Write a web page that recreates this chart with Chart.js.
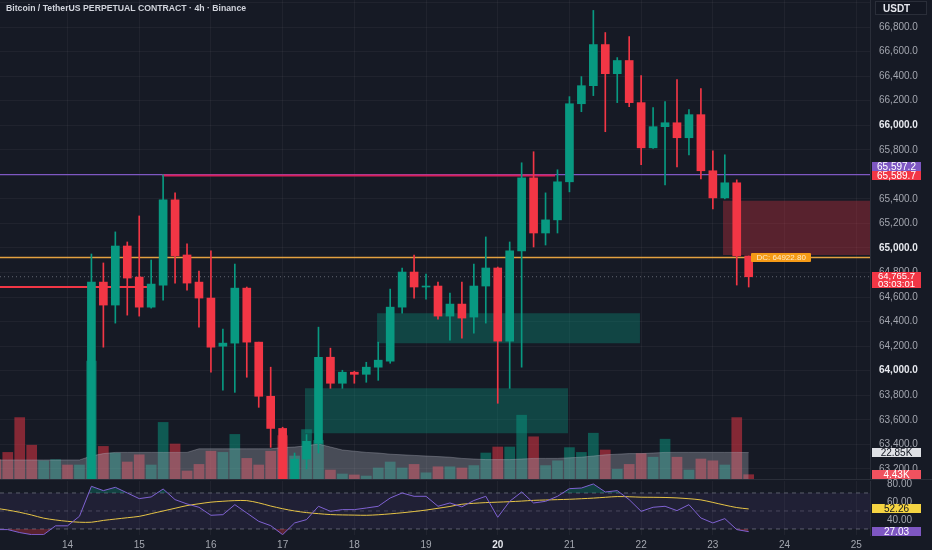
<!DOCTYPE html>
<html>
<head>
<meta charset="utf-8">
<script src="https://cdn.jsdelivr.net/npm/chart.js@4.4.1/dist/chart.umd.min.js"></script>
<style>
html, body { margin: 0; padding: 0; background: #161a25; }
#wrap { position: relative; width: 932px; height: 550px; overflow: hidden; font-family: "Liberation Sans", Arial, sans-serif; }
#main { position: absolute; left: 0; top: 0; }
#rsi { position: absolute; left: 0; top: 478px; }
#sep { position: absolute; left: 0; top: 479px; width: 932px; height: 1px; background: #2a2e39; }
#title { position: absolute; left: 6px; top: 3px; font-size: 8.7px; font-weight: bold; color: #d1d4dc; white-space: nowrap; }
#unit { position: absolute; left: 875px; top: 1px; width: 52px; height: 14px; line-height: 14px; box-sizing: border-box; border: 1px solid #2a2e39; background: #131722; color: #e6e8ee; font-size: 10px; font-weight: bold; padding-left: 7px; }
.tag { position: absolute; left: 872px; width: 49px; height: 9px; line-height: 9px; font-size: 10px; text-align: center; color: #fff; white-space: nowrap; }
.tag.two { height: 16px; line-height: 8px; font-size: 9.5px; }
#dc { position: absolute; height: 9px; line-height: 9px; font-size: 8px; width: 60px; text-align: center; background: #f59a16; color: #fde9c8; border-radius: 1px; }
</style>
</head>
<body>
<div id="wrap">
  <canvas id="main" width="932" height="480"></canvas>
  <div id="sep"></div>
  <canvas id="rsi" width="932" height="72"></canvas>
  <div id="title">Bitcoin / TetherUS PERPETUAL CONTRACT · 4h · Binance</div>
  <div id="unit">USDT</div>
</div>
<script>
// 4h bars, 13th 00:00 to 23rd 12:00
var barTimes = [
  '13 00:00','13 04:00','13 08:00','13 12:00','13 16:00','13 20:00',
  '14 00:00','14 04:00','14 08:00','14 12:00','14 16:00','14 20:00',
  '15 00:00','15 04:00','15 08:00','15 12:00','15 16:00','15 20:00',
  '16 00:00','16 04:00','16 08:00','16 12:00','16 16:00','16 20:00',
  '17 00:00','17 04:00','17 08:00','17 12:00','17 16:00','17 20:00',
  '18 00:00','18 04:00','18 08:00','18 12:00','18 16:00','18 20:00',
  '19 00:00','19 04:00','19 08:00','19 12:00','19 16:00','19 20:00',
  '20 00:00','20 04:00','20 08:00','20 12:00','20 16:00','20 20:00',
  '21 00:00','21 04:00','21 08:00','21 12:00','21 16:00','21 20:00',
  '22 00:00','22 04:00','22 08:00','22 12:00','22 16:00','22 20:00',
  '23 00:00','23 04:00','23 08:00','23 12:00'
];
var dayTicks = ['14','15','16','17','18','19','20','21','22','23','24','25'];
var rsiTicks = [40, 60, 80];

var open = [63000,62920,62800,62620,62540,62680,62780,62700,62900,64722,64535,65016,64763,64518,64698,65392,
  64943,64722,64592,64200,64225,64673,64233,63792,63530,62980,63280,63408,64110,63898,63988,63971,
  64029,64078,64518,64804,64682,64690,64445,64543,64437,64690,64837,64241,64976,65571,65122,65229,
  65539,66175,66322,66657,66420,66527,66184,65816,65988,66020,65898,66086,65629,65408,65531,64935];
var high = [63080,62980,62850,62700,62720,62820,62830,62950,64951,64878,65131,65049,65261,64902,65596,65449,
  65033,64812,64976,64339,64869,64682,64233,64029,63540,63330,63480,64355,64184,64004,63996,64069,
  64233,64665,64837,64943,64788,64722,64633,64722,64869,65090,64845,65049,65694,65784,65449,65637,
  66233,66396,66935,66755,66551,66722,66404,66143,66192,66371,66127,66298,65792,65759,65555,64935];
var low = [62880,62760,62550,62480,62500,62640,62660,62680,62880,64192,64388,64453,64445,64510,64575,64714,
  64657,64355,63988,63841,63824,63947,63702,63376,62950,62900,63200,63330,63857,63857,63898,63906,
  63922,64061,64469,64592,64584,64420,64249,64265,64306,64388,63735,63857,64029,65008,65024,65122,
  65457,66110,66241,65947,66184,66151,65678,65810,65514,65661,65759,65563,65318,65400,64698,64682];
var close = [62920,62800,62620,62540,62680,62780,62700,62900,64722,64535,65016,64755,64518,64706,65392,64935,
  64714,64592,64192,64225,64673,64233,63792,63530,63050,63280,63425,64110,63898,63988,63971,64029,
  64086,64518,64804,64682,64690,64445,64543,64429,64690,64837,64241,64976,65571,65122,65229,65539,
  66175,66322,66657,66420,66527,66184,65816,65988,66020,65898,66086,65629,65408,65531,64935,64765.7];

// volume in thousands, and its moving average
var volume = [17,23,52,29,16,17,12.5,12.5,99,28,22.5,15,21,12.5,48,30,
  7.5,13,24,23,38,18,12.5,24,37,20,42,33,8.3,5,4.2,3.3,
  10,15,10,13,6,11,11,10,12,22.5,27.5,27.5,54,36,12,16,
  27,23,39,25,9,13,22,19,34,19,8.3,17.5,16,12.5,52,4.43];
var volumeMA = [16.7,16.7,16.7,16.7,16.7,16.7,16.7,16.7,20,22,23,23,23,23,23,23,
  23,26,26,26,26,26,26,26,27,27.5,28.5,30,27.5,25,24,23,
  22.5,21.5,21,20.5,20,19.5,19,18,17.5,17,17,17,17.5,18,18,18,
  18.5,19,20,21,21.5,22,22,22.5,23,23,23,23,23,23,23,22.85];

// RSI(14) and its moving average
var rsi = [29.3,29.3,26,23.7,23.7,33.5,33.5,44.1,77.4,72.6,76.3,70,63.7,65.6,74.4,62.6,
  57.8,54.1,45.2,45.9,57,47.8,38.5,33.7,23.7,36.7,40.4,55.2,49.6,51.5,51.5,53.3,
  55.2,64.4,70,66.3,66.3,55.2,58.9,54.6,61.6,66.3,43,60.7,71.1,58.9,60.7,66.3,
  74.8,75.5,80,71.1,72.6,62.6,49.6,54.1,55.2,50.4,57,42.2,36.7,41.5,29.3,27.03];
var rsiMA = [53,51,48.5,45.5,42,40,38.5,37.5,37.5,39.5,41,42.5,44,47,50,53,
  56,58,59.8,60.8,61.5,61.5,59,55.5,52.5,50,48.2,47,46,45.6,45.4,45.2,
  45.8,46.8,48,49.4,51,53,55,57.5,58.5,59.3,59.8,60.3,61,61.8,62.2,62.6,
  63,63.6,64.3,65.2,66,65.8,65.3,65.2,65,64.5,63.6,62.3,59.5,56.5,53.8,52.26];

// drawn levels (price) and zones (bar index / price)
var purpleLevel = 65597.2;
var pinkLevel = 65589.7;
var redLevel = 64682;
var dcLevel = 64922.8;
var lastPrice = 64765.7;
var zoneFrom = [31.9, 25.87, 60.85];
var zoneTo = [53.9, 47.88, 73.2];
var zoneTop = [64469, 63857, 65384];
var zoneBottom = [64224, 63490, 64943];
var zoneColor = ['rgba(8,153,129,0.34)', 'rgba(8,153,129,0.34)', 'rgba(242,54,69,0.3)'];

var XMIN = 0.35, XMAX = 73.15;
var GREEN = '#089981', RED = '#f23645';
var FONT = '"Liberation Sans", Arial, sans-serif';

var up = close.map(function(c, i){ return c >= open[i]; });
var candleCol = up.map(function(u){ return u ? GREEN : RED; });
var volCol = up.map(function(u){ return u ? 'rgba(8,153,129,0.5)' : 'rgba(242,54,69,0.5)'; });

function hLine(x0, x1, y, color, width, dash, order) {
  return { type: 'line', yAxisID: 'y', data: [{x: x0, y: y}, {x: x1, y: y}],
    borderColor: color, borderWidth: width, borderDash: dash || [], pointRadius: 0, fill: false, order: order };
}
function noPad(s) { s.paddingTop = 0; s.paddingBottom = 0; s.paddingLeft = 0; s.paddingRight = 0; }

var ds = [];
ds.push({ type: 'bar', yAxisID: 'y', grouped: false, order: 0, barThickness: 8, minBarLength: 1,
  data: barTimes.map(function(_, i){ return {x: i, y: [open[i], close[i]]}; }),
  backgroundColor: candleCol, borderWidth: 0 });
ds.push({ type: 'bar', yAxisID: 'y', grouped: false, order: 1, barThickness: 1,
  data: barTimes.map(function(_, i){ return {x: i, y: [low[i], high[i]]}; }),
  backgroundColor: candleCol, borderWidth: 0 });
ds.push(hLine(XMIN, XMAX, lastPrice, 'rgba(160,163,175,0.55)', 1, [1, 3], 2));
ds.push(hLine(XMIN, XMAX, dcLevel, '#e3a140', 1.5, [], 2));
ds.push(hLine(XMIN, 12.65, redLevel, '#f23645', 2, [], 2));
ds.push(hLine(XMIN, XMAX, purpleLevel, '#7e57c2', 1.2, [], 3));
ds.push(hLine(13.9, 46.8, pinkLevel, '#d81f5a', 2, [], 2));
zoneFrom.forEach(function(f, k){
  var bottomIdx = ds.length + 1;
  ds.push({ type: 'line', yAxisID: 'y', order: 6, pointRadius: 0, borderWidth: 0,
    data: [{x: f, y: zoneTop[k]}, {x: zoneTo[k], y: zoneTop[k]}], fill: bottomIdx, backgroundColor: zoneColor[k] });
  ds.push({ type: 'line', yAxisID: 'y', order: 6, pointRadius: 0, borderWidth: 0,
    data: [{x: f, y: zoneBottom[k]}, {x: zoneTo[k], y: zoneBottom[k]}], fill: false });
});
ds.push({ type: 'line', yAxisID: 'yv', order: 7, pointRadius: 0, borderWidth: 1, tension: 0,
  data: barTimes.map(function(_, i){ return {x: i, y: volumeMA[i]}; }),
  borderColor: 'rgba(175,178,190,0.35)', backgroundColor: 'rgba(175,178,190,0.33)', fill: 'origin' });
ds.push({ type: 'bar', yAxisID: 'yv', grouped: false, order: 8, barThickness: 10,
  data: barTimes.map(function(_, i){ return {x: i, y: volume[i]}; }),
  backgroundColor: volCol, borderWidth: 0 });

var gridCol = 'rgba(255,255,255,0.045)';

var mainChart = new Chart(document.getElementById('main').getContext('2d'), {
  type: 'bar',
  data: { datasets: ds },
  options: {
    responsive: false, animation: false,
    layout: { padding: 0, autoPadding: false },
    plugins: { legend: { display: false }, tooltip: { enabled: false } },
    scales: {
      x: { type: 'linear', min: XMIN, max: XMAX, offset: false,
        grid: { color: gridCol, drawTicks: false, offset: false },
        border: { display: false },
        ticks: { display: false, stepSize: 6, includeBounds: false },
        afterFit: function(s){ s.height = 0; noPad(s); } },
      y: { type: 'linear', position: 'right', min: 63110, max: 67020,
        grid: { color: gridCol, drawTicks: false },
        border: { color: '#2a2e39' },
        ticks: { stepSize: 200, includeBounds: false, padding: 9,
          color: function(c){ return c.tick && c.tick.value % 1000 === 0 ? '#e6e8ee' : '#a3a6af'; },
          font: function(c){ return { family: FONT, size: 10, weight: c.tick && c.tick.value % 1000 === 0 ? 'bold' : 'normal' }; },
          callback: function(v){ return v > 66900 ? '' : v.toLocaleString('en-US', {minimumFractionDigits: 1, maximumFractionDigits: 1}); } },
        afterFit: function(s){ s.width = 62; noPad(s); } },
      yv: { type: 'linear', display: false, min: 0, max: 400 }
    }
  }
});

function isBoldDay(c) { return !!(c.tick && dayTicks[c.tick.value / 6 - 1] === '20'); }

var rsiChart = new Chart(document.getElementById('rsi').getContext('2d'), {
  type: 'line',
  data: { datasets: [
    { data: [{x: XMIN, y: 70}, {x: XMAX, y: 70}], borderColor: 'rgba(120,123,134,0.7)', borderWidth: 1, borderDash: [4, 4],
      pointRadius: 0, fill: 2, backgroundColor: 'rgba(126,87,194,0.1)', order: 5 },
    { data: [{x: XMIN, y: 50}, {x: XMAX, y: 50}], borderColor: 'rgba(120,123,134,0.45)', borderWidth: 1, borderDash: [4, 4],
      pointRadius: 0, fill: false, order: 5 },
    { data: [{x: XMIN, y: 30}, {x: XMAX, y: 30}], borderColor: 'rgba(120,123,134,0.7)', borderWidth: 1, borderDash: [4, 4],
      pointRadius: 0, fill: false, order: 5 },
    { data: barTimes.map(function(_, i){ return {x: i, y: rsi[i]}; }), borderColor: '#7f62d2', borderWidth: 1, pointRadius: 0,
      tension: 0, order: 0, fill: { target: { value: 70 }, above: 'rgba(8,153,129,0.3)', below: 'rgba(0,0,0,0)' } },
    { data: barTimes.map(function(_, i){ return {x: i, y: rsi[i]}; }), borderWidth: 0, pointRadius: 0,
      tension: 0, order: 2, fill: { target: { value: 30 }, above: 'rgba(0,0,0,0)', below: 'rgba(242,54,69,0.3)' } },
    { data: barTimes.map(function(_, i){ return {x: i, y: rsiMA[i]}; }), borderColor: '#e6c446', borderWidth: 1, pointRadius: 0,
      tension: 0.3, order: 1, fill: false }
  ] },
  options: {
    responsive: false, animation: false,
    layout: { padding: { top: 3, bottom: 0, left: 0, right: 0 }, autoPadding: false },
    plugins: { legend: { display: false }, tooltip: { enabled: false } },
    scales: {
      x: { type: 'linear', min: XMIN, max: XMAX, offset: false,
        grid: { color: gridCol, drawTicks: false },
        border: { display: false },
        ticks: { stepSize: 6, includeBounds: false, padding: 4, maxRotation: 0, autoSkip: false,
          color: function(c){ return isBoldDay(c) ? '#e6e8ee' : '#a3a6af'; },
          font: function(c){ return { family: FONT, size: 10, weight: isBoldDay(c) ? 'bold' : 'normal' }; },
          callback: function(v){ return dayTicks[v / 6 - 1]; } },
        afterFit: function(s){ s.height = 15; noPad(s); } },
      y: { type: 'linear', position: 'right', min: 23.3, max: 83.3,
        grid: { display: false },
        border: { color: '#2a2e39' },
        afterBuildTicks: function(s){ s.ticks = rsiTicks.map(function(v){ return {value: v}; }); },
        ticks: { padding: 9, color: '#a3a6af', font: { family: FONT, size: 10 },
          callback: function(v){ return v.toFixed(2); } },
        afterFit: function(s){ s.width = 62; noPad(s); } }
    }
  }
});

// price / value tags on the right scale
var wrap = document.getElementById('wrap');
function tag(top, html, bg, fg, cls) {
  var d = document.createElement('div');
  d.className = 'tag' + (cls ? ' ' + cls : '');
  d.style.top = top + 'px';
  d.style.background = bg;
  d.style.color = fg;
  d.innerHTML = html;
  wrap.appendChild(d);
}
var py = mainChart.scales.y, vy = mainChart.scales.yv, px = mainChart.scales.x, ry = rsiChart.scales.y;
var pinkTop = py.getPixelForValue(pinkLevel) - 4.5;
tag(pinkTop - 9, '65,597.2', '#7e57c2', '#fff');
tag(pinkTop, '65,589.7', '#f23645', '#fff');
tag(py.getPixelForValue(lastPrice) - 4.5, '64,765.7<br>03:03:01', '#f23645', '#fff', 'two');
tag(vy.getPixelForValue(volumeMA[volumeMA.length - 1]) - 4.5, '22.85K', '#dfe1e6', '#131722');
tag(vy.getPixelForValue(volume[volume.length - 1]) - 4.5, '4.43K', '#f0525f', '#fff');
tag(478 + ry.getPixelForValue(rsiMA[rsiMA.length - 1]) - 4.5, '52.26', '#f5d442', '#131722');
tag(478 + ry.getPixelForValue(rsi[rsi.length - 1]) - 4.5, '27.03', '#7e57c2', '#fff');

var dc = document.createElement('div');
dc.id = 'dc';
dc.style.left = (px.getPixelForValue(barTimes.length - 1) + 2.5) + 'px';
dc.style.top = (py.getPixelForValue(dcLevel) - 4.5) + 'px';
dc.textContent = 'DC: 64922.80';
wrap.appendChild(dc);
</script>
</body>
</html>
